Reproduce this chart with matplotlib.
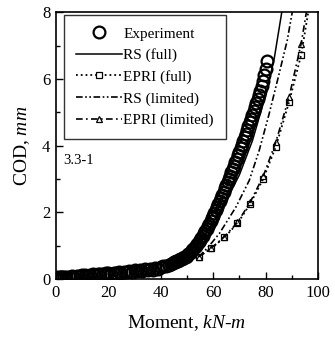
import numpy as np
import matplotlib
matplotlib.use('Agg')
import matplotlib.pyplot as plt
from matplotlib.ticker import MultipleLocator

plt.rcParams['font.family'] = ['Liberation Serif', 'DejaVu Serif']
plt.rcParams['mathtext.fontset'] = 'custom'
plt.rcParams['mathtext.rm'] = 'Liberation Serif'
plt.rcParams['mathtext.it'] = 'Liberation Serif:italic'

# experiment (moment kN-m, COD mm)
exp_m = [0, 0.5, 1, 1.5, 2, 2.5, 3, 4, 5, 6, 7, 8, 9, 10, 11, 12, 13, 14, 15, 16,
         17, 18, 19, 20, 21, 22, 23, 24, 25, 26, 27, 28, 29, 30, 31, 32, 33, 34, 35,
         36, 37, 38, 39, 40, 41, 42, 43,
         44, 44.5, 45, 45.5, 46, 46.5, 47, 47.5, 48, 48.5, 49, 49.5, 50, 50.5,
         51, 51.5, 52, 52.5, 53, 53.5, 54, 54.5, 55, 55.5, 56, 56.5, 57, 57.5,
         58, 58.5, 59, 59.5, 60, 60.5, 61, 61.5, 62, 62.5, 63, 63.5, 64, 64.5,
         65, 65.5, 66, 66.5, 67, 67.5, 68, 68.5, 69, 69.5, 70, 70.5, 71, 71.5,
         72, 72.5, 73, 73.5, 74, 74.5, 75, 75.5, 76, 76.5, 77, 77.5, 78, 78.5,
         79, 79.5, 80, 80.5]
exp_cod = [0.04, 0.05, 0.04, 0.06, 0.05, 0.05, 0.06, 0.05, 0.07, 0.08, 0.07, 0.10,
           0.09, 0.11, 0.12, 0.10, 0.13, 0.15, 0.13, 0.16, 0.15, 0.14, 0.17, 0.18,
           0.16, 0.19, 0.17, 0.20, 0.19, 0.22, 0.20, 0.24, 0.22, 0.26, 0.24, 0.27,
           0.25, 0.29, 0.27, 0.30, 0.28, 0.33, 0.31, 0.36, 0.38, 0.40, 0.43,
           0.46, 0.48, 0.50, 0.52, 0.53, 0.55, 0.57, 0.59, 0.61, 0.63, 0.65, 0.67,
           0.70, 0.74, 0.78, 0.82, 0.87, 0.91, 0.96, 1.00, 1.06, 1.12, 1.18, 1.24,
           1.30, 1.37, 1.44, 1.51, 1.58, 1.66, 1.74, 1.82, 1.90, 1.99, 2.08, 2.17,
           2.25, 2.34, 2.43, 2.53, 2.62, 2.72, 2.81, 2.90, 3.00, 3.10, 3.20, 3.30,
           3.40, 3.50, 3.61, 3.71, 3.82, 3.93, 4.03, 4.14, 4.25, 4.36, 4.47, 4.59,
           4.70, 4.81, 4.92, 5.04, 5.15, 5.27, 5.40, 5.52, 5.65, 5.80, 5.95, 6.12,
           6.30, 6.55]

# RS (full)
rsf_m = [50, 55, 60, 65, 70, 75, 80, 83.3, 86.2]
rsf_cod = [0.60, 1.10, 1.70, 2.35, 3.12, 4.15, 5.50, 6.60, 8.00]

# EPRI (full)
epf_m = [54.5, 59.3, 64.3, 69.3, 74.1, 79.1, 83.9, 89.0, 93.6, 96.3]
epf_cod = [0.67, 0.92, 1.25, 1.67, 2.25, 3.00, 3.96, 5.31, 6.72, 8.00]

# RS (limited)
rsl_m = [54.5, 58.0, 62.4, 68.7, 73.8, 77.6, 81.4, 85.2, 88.3, 90.2]
rsl_cod = [0.67, 0.95, 1.37, 2.16, 2.96, 3.86, 4.96, 6.16, 7.16, 8.00]

# EPRI (limited)
epl_m = [54.5, 59.3, 64.3, 69.3, 74.1, 79.1, 83.9, 89.0, 93.6, 95.6]
epl_cod = [0.67, 0.93, 1.27, 1.70, 2.30, 3.08, 4.10, 5.46, 7.06, 8.00]

fig = plt.figure(figsize=(3.35, 3.40), dpi=100)
ax = fig.add_axes([0.167, 0.179, 0.782, 0.785])

ax.plot(exp_m, exp_cod, 'o', ms=8.5, mfc='none', mec='black', mew=1.6,
        label='Experiment', zorder=3)
ax.plot(rsf_m, rsf_cod, '-', color='black', lw=1.1, label='RS (full)')
ax.plot(epf_m[:-1], epf_cod[:-1], 's', ms=3.8, mfc='white', mec='black', mew=0.9)
ax.plot(epf_m, epf_cod, ':', color='black', lw=1.3)
ax.plot([], [], ':', marker='s', ms=3.8, mfc='white', mec='black', mew=0.9,
        color='black', lw=1.3, label='EPRI (full)')
ax.plot(rsl_m, rsl_cod, color='black', lw=1.2,
        linestyle=(0, (4, 1.5, 1, 1.5, 1, 1.5)), label='RS (limited)')
ax.plot(epl_m[:-1], epl_cod[:-1], '^', ms=3.8, mfc='white', mec='black', mew=0.9)
ax.plot(epl_m, epl_cod, color='black', lw=1.2, linestyle=(0, (4, 2, 1, 2)))
ax.plot([], [], marker='^', ms=3.8, mfc='white', mec='black', mew=0.9,
        color='black', lw=1.2, linestyle=(0, (4, 2, 1, 2)), label='EPRI (limited)')

ax.set_xlim(0, 100)
ax.set_ylim(0, 8)
ax.xaxis.set_major_locator(MultipleLocator(20))
ax.xaxis.set_minor_locator(MultipleLocator(10))
ax.yaxis.set_major_locator(MultipleLocator(2))
ax.yaxis.set_minor_locator(MultipleLocator(1))
ax.tick_params(which='both', direction='in', top=False, right=False,
               labelsize=12, width=1.0)
ax.tick_params(which='major', length=5, pad=4)
ax.tick_params(which='minor', length=3)
for s in ax.spines.values():
    s.set_linewidth(1.2)

ax.set_xlabel(r'Moment, $\it{kN}$-$\it{m}$', fontsize=14, labelpad=9)
ax.set_ylabel(r'COD, $\it{mm}$', fontsize=14, labelpad=7)

ax.text(2.8, 3.56, '3.3-1', fontsize=10.5, va='center', ha='left')

leg = ax.legend(loc='upper left', bbox_to_anchor=(0.03, 0.99), borderaxespad=0,
                fontsize=11, frameon=True, fancybox=False, edgecolor='black',
                handlelength=3.0, handletextpad=0.1, labelspacing=0.5,
                borderpad=0.8, numpoints=1)
leg.get_frame().set_linewidth(1.0)

fig.savefig('out.png', dpi=100)
